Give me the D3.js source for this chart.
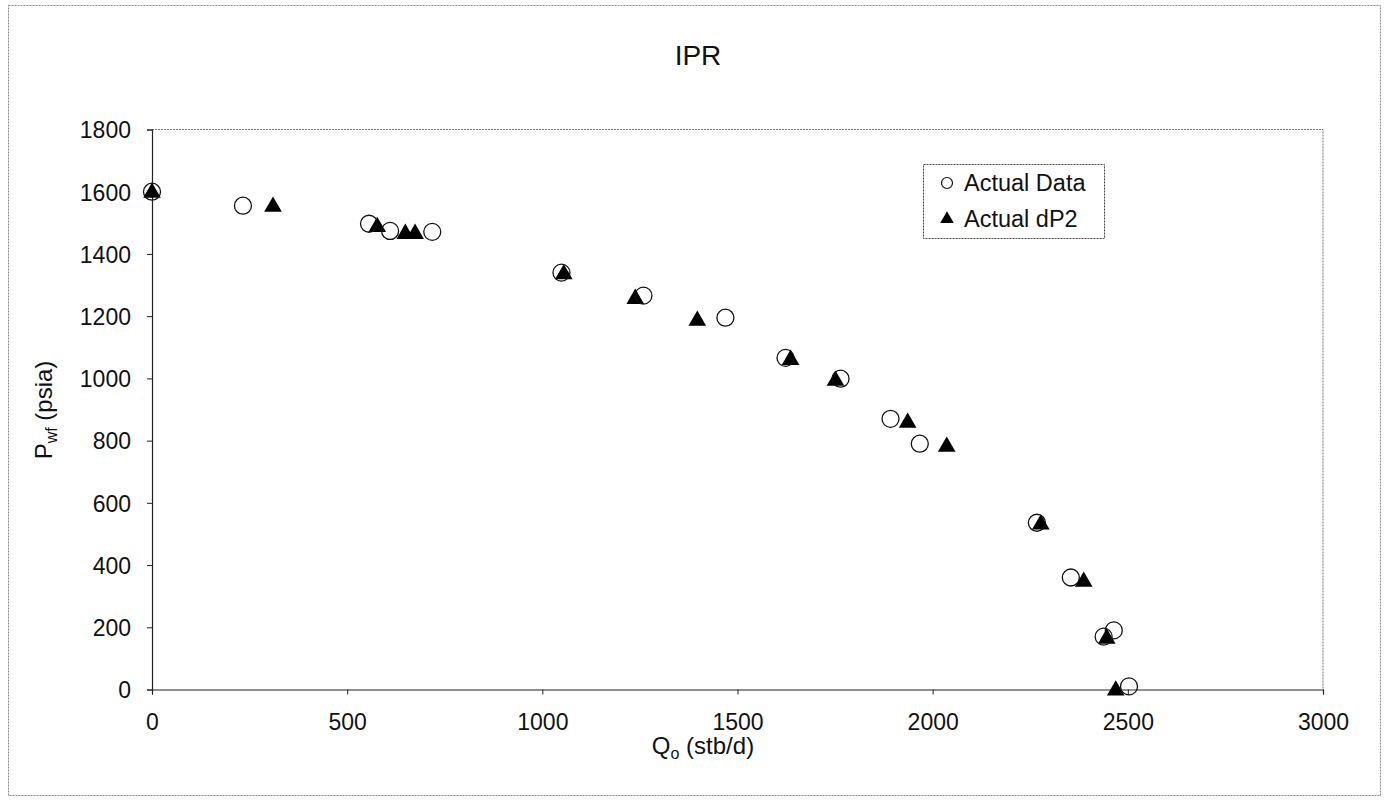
<!DOCTYPE html>
<html><head><meta charset="utf-8">
<script src="https://cdn.jsdelivr.net/npm/d3@7"></script>
<style>body{margin:0;background:#fff}svg{display:block;font-family:"Liberation Sans",Arial,sans-serif}</style>
</head><body><svg id="c" width="1389" height="803"></svg>
<script>
const xTicks = [0,500,1000,1500,2000,2500,3000];
const yTicks = [0,200,400,600,800,1000,1200,1400,1600,1800];
const actualQ = [0,233,556,610,718,1049,1259,1469,1623,1764,1892,1967,2267,2354,2438,2464,2503];
const actualP = [1600,1555,1497,1474,1471,1340,1266,1195,1066,999,870,790,536,360,170,190,10];
const dp2Q = [0,310,577,649,674,1055,1238,1397,1636,1751,1936,2036,2277,2387,2446,2469];
const dp2P = [1600,1555,1490,1468,1468,1338,1259,1189,1063,996,861,784,534,350,167,0];

const svg = d3.select("#c");
const L=152,R=1323,T=129.5,B=689.5;
const x = d3.scaleLinear().domain([0,3000]).range([L,R]);
const y = d3.scaleLinear().domain([0,1800]).range([B,T]);

// outer border
svg.append("rect").attr("x",8.5).attr("y",5.5).attr("width",1372).attr("height",790)
  .attr("fill","none").attr("stroke","#888").attr("stroke-width",1).attr("stroke-dasharray","2,1");

// plot border top/right
svg.append("path").attr("d",`M${L},${T}H${R}V${B}`).attr("fill","none")
  .attr("stroke","#777").attr("stroke-width",1).attr("stroke-dasharray","2,1");

// axes
const xa = svg.append("g").attr("transform",`translate(0,${B})`)
  .call(d3.axisBottom(x).tickValues(xTicks).tickSize(5).tickFormat(d3.format("d")));
const ya = svg.append("g").attr("transform",`translate(${L},0)`)
  .call(d3.axisLeft(y).tickValues(yTicks).tickSize(5).tickFormat(d3.format("d")));
[xa,ya].forEach(a=>{
  a.selectAll(".domain").attr("stroke","#222").attr("stroke-width",1.2);
  a.selectAll(".tick line").attr("stroke","#222");
  a.selectAll("text").attr("font-size",23).attr("fill","#111").attr("font-family","Liberation Sans, Arial");
});
xa.selectAll("text").attr("y",40).attr("dy",0);
ya.selectAll("text").attr("x",-21).attr("dy","0.36em");

// title
svg.append("text").attr("x",698).attr("y",65).attr("text-anchor","middle")
  .attr("font-size",28).attr("fill","#111").text("IPR");

// x label
const xl = svg.append("text").attr("x",703).attr("y",754).attr("text-anchor","middle")
  .attr("font-size",24).attr("fill","#111");
xl.append("tspan").text("Q");
xl.append("tspan").attr("font-size",16).attr("dy",5).text("o");
xl.append("tspan").attr("dy",-5).text(" (stb/d)");

// y label
const yl = svg.append("text").attr("transform","translate(52,410) rotate(-90)").attr("text-anchor","middle")
  .attr("font-size",24).attr("fill","#111");
yl.append("tspan").text("P");
yl.append("tspan").attr("font-size",16).attr("dy",5).text("wf");
yl.append("tspan").attr("dy",-5).text(" (psia)");

// data
const circles = actualQ.map((q,i)=>({q,p:actualP[i]}));
const tris = dp2Q.map((q,i)=>({q,p:dp2P[i]}));
const triSym = d3.symbol().type(d3.symbolTriangle).size(135);

svg.append("g").selectAll("path").data(tris).join("path")
  .attr("d",triSym).attr("transform",d=>`translate(${x(d.q)},${y(d.p)+1})`)
  .attr("fill","#000");
svg.append("g").selectAll("circle").data(circles).join("circle")
  .attr("cx",d=>x(d.q)).attr("cy",d=>y(d.p)).attr("r",8.5)
  .attr("fill","none").attr("stroke","#111").attr("stroke-width",1.3);

// legend
const lg = svg.append("g");
lg.append("rect").attr("x",923.5).attr("y",164.5).attr("width",181).attr("height",74)
  .attr("fill","#fff").attr("stroke","#444").attr("stroke-dasharray","2,1");
lg.append("circle").attr("cx",947).attr("cy",183).attr("r",5.5).attr("fill","none").attr("stroke","#111").attr("stroke-width",1.2);
lg.append("path").attr("d",d3.symbol().type(d3.symbolTriangle).size(80)).attr("transform","translate(947,219)").attr("fill","#000");
lg.append("text").attr("x",964).attr("y",191).attr("font-size",23.5).attr("fill","#111").text("Actual Data");
lg.append("text").attr("x",964).attr("y",227).attr("font-size",23.5).attr("fill","#111").text("Actual dP2");
</script></body></html>
